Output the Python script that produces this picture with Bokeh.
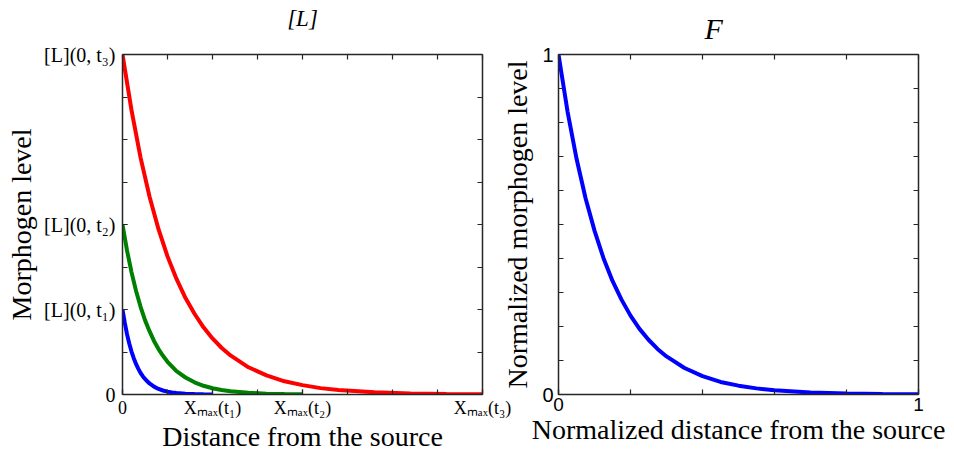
from bokeh.plotting import figure
from bokeh.models import Range1d, FixedTicker, LinearAxis, Title
from bokeh.layouts import row
from bokeh.embed import file_html
from bokeh.resources import INLINE

# ---------------- data ----------------
# Left panel: morphogen level [L] vs distance, three time points t1 < t2 < t3
t1_x = [0, 0.05, 0.1, 0.15, 0.2, 0.25, 0.3, 0.35, 0.4, 0.45, 0.5, 0.55, 0.6,
        0.7, 0.8, 0.9, 1.0, 1.1, 1.2, 1.4, 1.6, 1.8, 2.0]
t1_y = [2.0, 1.69, 1.42, 1.20, 1.01, 0.855, 0.72, 0.61, 0.51, 0.43, 0.365, 0.31, 0.26,
        0.185, 0.13, 0.094, 0.067, 0.047, 0.034, 0.017, 0.009, 0.004, 0.002]

t2_x = [0, 0.1, 0.2, 0.3, 0.4, 0.5, 0.6, 0.7, 0.8, 0.9, 1.0, 1.2,
        1.4, 1.6, 1.8, 2.0, 2.2, 2.4, 2.8, 3.2, 3.6, 4.0]
t2_y = [4.0, 3.39, 2.88, 2.44, 2.07, 1.75, 1.49, 1.26, 1.07, 0.91, 0.77, 0.55,
        0.40, 0.286, 0.205, 0.147, 0.106, 0.076, 0.039, 0.02, 0.011, 0.005]

t3_x = [0, 0.2, 0.4, 0.6, 0.8, 1.0, 1.2, 1.4, 1.6, 1.8, 2.0, 2.2, 2.4,
        2.8, 3.2, 3.6, 4.0, 4.4, 4.8, 5.6, 6.4, 7.2, 8.0]
t3_y = [8.0, 6.69, 5.58, 4.66, 3.89, 3.25, 2.72, 2.27, 1.90, 1.58, 1.32, 1.10, 0.92,
        0.64, 0.45, 0.31, 0.22, 0.15, 0.107, 0.052, 0.025, 0.012, 0.006]

left_x_ticks = [0, 2, 4, 8]
left_x_labels = ["0", "Xₘₐₓ(t₁)", "Xₘₐₓ(t₂)", "Xₘₐₓ(t₃)"]
left_y_ticks = [0, 2, 4, 8]
left_y_labels = ["0", "[L](0, t₁)", "[L](0, t₂)", "[L](0, t₃)"]
left_minor = [0, 1, 2, 3, 4, 5, 6, 7, 8]

# Right panel: normalized profile F
f_x = [0, 0.025, 0.05, 0.075, 0.1, 0.125, 0.15, 0.175, 0.2, 0.225, 0.25, 0.275, 0.3,
       0.35, 0.4, 0.45, 0.5, 0.55, 0.6, 0.7, 0.8, 0.9, 1.0]
f_y = [1.0, 0.833, 0.694, 0.578, 0.482, 0.401, 0.334, 0.279, 0.232, 0.193, 0.161, 0.134, 0.112,
       0.078, 0.054, 0.037, 0.026, 0.018, 0.0125, 0.006, 0.003, 0.0014, 0.0007]

right_major = [0, 1]
right_x_minor = [0, 0.2, 0.4, 0.6, 0.8, 1.0]
right_y_minor = [0, 0.1, 0.2, 0.3, 0.4, 0.5, 0.6, 0.7, 0.8, 0.9, 1.0]

AX = "#262626"
SERIF = "Liberation Serif"
SANS = "Liberation Sans"


def style_axis(ax, major, minor, font, size, standoff=6):
    ax.ticker = FixedTicker(ticks=major, minor_ticks=minor)
    ax.major_tick_in = 5
    ax.major_tick_out = 0
    ax.minor_tick_in = 5
    ax.minor_tick_out = 0
    ax.axis_line_color = AX
    ax.axis_line_width = 1.5
    ax.major_tick_line_color = AX
    ax.minor_tick_line_color = AX
    ax.major_tick_line_width = 1.2
    ax.minor_tick_line_width = 1.2
    ax.major_label_text_font = font
    ax.major_label_text_color = "black"
    ax.major_label_text_font_size = size
    ax.major_label_standoff = standoff


def label_axis(ax, text, size, standoff, style="normal"):
    ax.axis_label = text
    ax.axis_label_text_font = SERIF
    ax.axis_label_text_font_style = style
    ax.axis_label_text_font_size = size
    ax.axis_label_text_color = "black"
    ax.axis_label_standoff = standoff


def frame_axes(p, xminor, yminor):
    # box edges with inward ticks only (no tick labels)
    top = LinearAxis()
    right = LinearAxis()
    style_axis(top, [], xminor, SANS, "10px", standoff=0)
    style_axis(right, [], yminor, SANS, "10px", standoff=0)
    p.add_layout(top, "above")
    p.add_layout(right, "right")
    return top


# ---------------- left panel ----------------
p1 = figure(width=522, height=456,
            min_border_left=122, min_border_right=40,
            min_border_top=54, min_border_bottom=62,
            x_range=Range1d(0, 8), y_range=Range1d(0, 8),
            output_backend="svg", toolbar_location=None,
            background_fill_color=None, border_fill_color=None)
p1.xgrid.visible = False
p1.ygrid.visible = False
p1.outline_line_color = None

p1.line(t1_x, t1_y, line_color="#0000FF", line_width=4)
p1.line(t2_x, t2_y, line_color="#008000", line_width=4)
p1.line(t3_x, t3_y, line_color="#FF0000", line_width=4)

xa = p1.xaxis[0]
style_axis(xa, left_x_ticks, left_minor, SERIF, "18px", standoff=3)
xa.major_label_overrides = {t: s for t, s in zip(left_x_ticks, left_x_labels)}
label_axis(xa, "Distance from the source", "28px", 0)

ya = p1.yaxis[0]
style_axis(ya, left_y_ticks, left_minor, SERIF, "20px", standoff=7)
ya.major_label_overrides = {t: s for t, s in zip(left_y_ticks, left_y_labels)}
label_axis(ya, "Morphogen level", "28px", 4)

top1 = frame_axes(p1, left_minor, left_minor)
label_axis(top1, "[L]", "23px", 24, style="italic")

# ---------------- right panel ----------------
p2 = figure(width=456, height=456,
            min_border_left=68, min_border_right=28,
            min_border_top=54, min_border_bottom=62,
            x_range=Range1d(0, 1), y_range=Range1d(0, 1),
            output_backend="svg", toolbar_location=None,
            background_fill_color=None, border_fill_color=None,
            margin=(0, 0, 0, -32))
p2.xgrid.visible = False
p2.ygrid.visible = False
p2.outline_line_color = None

p2.line(f_x, f_y, line_color="#0000FF", line_width=4)

xb = p2.xaxis[0]
style_axis(xb, right_major, right_x_minor, SANS, "19px", standoff=3)
label_axis(xb, "Normalized distance from the source", "28px", 0)

yb = p2.yaxis[0]
style_axis(yb, right_major, right_y_minor, SANS, "20px", standoff=5)
label_axis(yb, "Normalized morphogen level", "28px", 6)

frame_axes(p2, right_x_minor, right_y_minor)
p2.add_layout(Title(text="F", text_font=SERIF, text_font_style="italic",
                    text_font_size="30px", text_color="black",
                    align="left", offset=146, vertical_align="top",
                    standoff=16), "above")

layout = row(p1, p2)
open("out.html", "w").write(file_html(layout, INLINE))
